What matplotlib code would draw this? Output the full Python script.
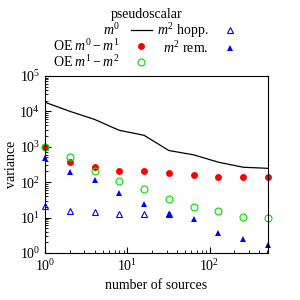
import matplotlib
matplotlib.use('Agg')
import matplotlib.pyplot as plt

plt.rcParams['font.family'] = ['Liberation Serif', 'DejaVu Serif']
plt.rcParams['mathtext.fontset'] = 'custom'
plt.rcParams['mathtext.rm'] = 'Liberation Serif'
plt.rcParams['mathtext.it'] = 'Liberation Serif:italic'
plt.rcParams['font.size'] = 10

sources = [1, 2, 4, 8, 16, 32, 64, 128, 256, 512]
m0 = [18000, 10000, 5900, 2900, 2100, 780, 590, 365, 263, 245]
oe_m0_m1 = [1000, 380, 263, 205, 205, 180, 155, 142, 142, 140]
oe_m1_m2 = [950, 500, 210, 107, 62, 34, 20, 15.5, 10.5, 9.4]
sources_hopp = [1, 2, 4, 8, 16, 32]
m2_hopp = [20.5, 14.8, 14.5, 12.3, 12.5, 12.2]
m2_rem = [465, 193, 112, 49, 24, 12.4, 8.8, 3.7, 2.5, 1.7]

fig = plt.figure(figsize=(3, 3), dpi=100)
ax = fig.add_axes([0.15, 0.157, 0.743, 0.59])

ax.plot(sources, m0, color='black', lw=0.9, label=r'$m^0$')
ax.plot(sources, oe_m0_m1, 'o', color='red', ms=5, mew=0, clip_on=False, label=r'OE $m^0-m^1$')
ax.plot(sources, oe_m1_m2, 'o', mfc='none', mec='#00dd00', ms=5, mew=0.8, clip_on=False, label=r'OE $m^1-m^2$')
ax.plot(sources_hopp, m2_hopp, '^', mfc='none', mec='blue', ms=4.5, mew=0.8, clip_on=False, label=r'$m^2$ hopp.')
ax.plot(sources, m2_rem, '^', color='blue', ms=5, mew=0, clip_on=False, label=r'$m^2$ rem.')

ax.set_xscale('log')
ax.set_yscale('log')
ax.set_xlim(1, 512)
ax.set_ylim(1, 1e5)
ax.tick_params(which='both', direction='in', top=False, right=False)
ax.tick_params(which='major', length=4)
ax.tick_params(which='minor', length=2)
ax.set_xlabel('number of sources')
ax.set_ylabel('variance', labelpad=1)

leg = fig.legend(loc='upper center', bbox_to_anchor=(0.49, 1.0), ncol=2, frameon=False,
                 markerfirst=False, title='pseudoscalar', handlelength=1.5,
                 columnspacing=0.4, labelspacing=0.0, borderaxespad=0.2, handletextpad=0.8)
leg._legend_box.sep = 0

plt.savefig('out.png')
